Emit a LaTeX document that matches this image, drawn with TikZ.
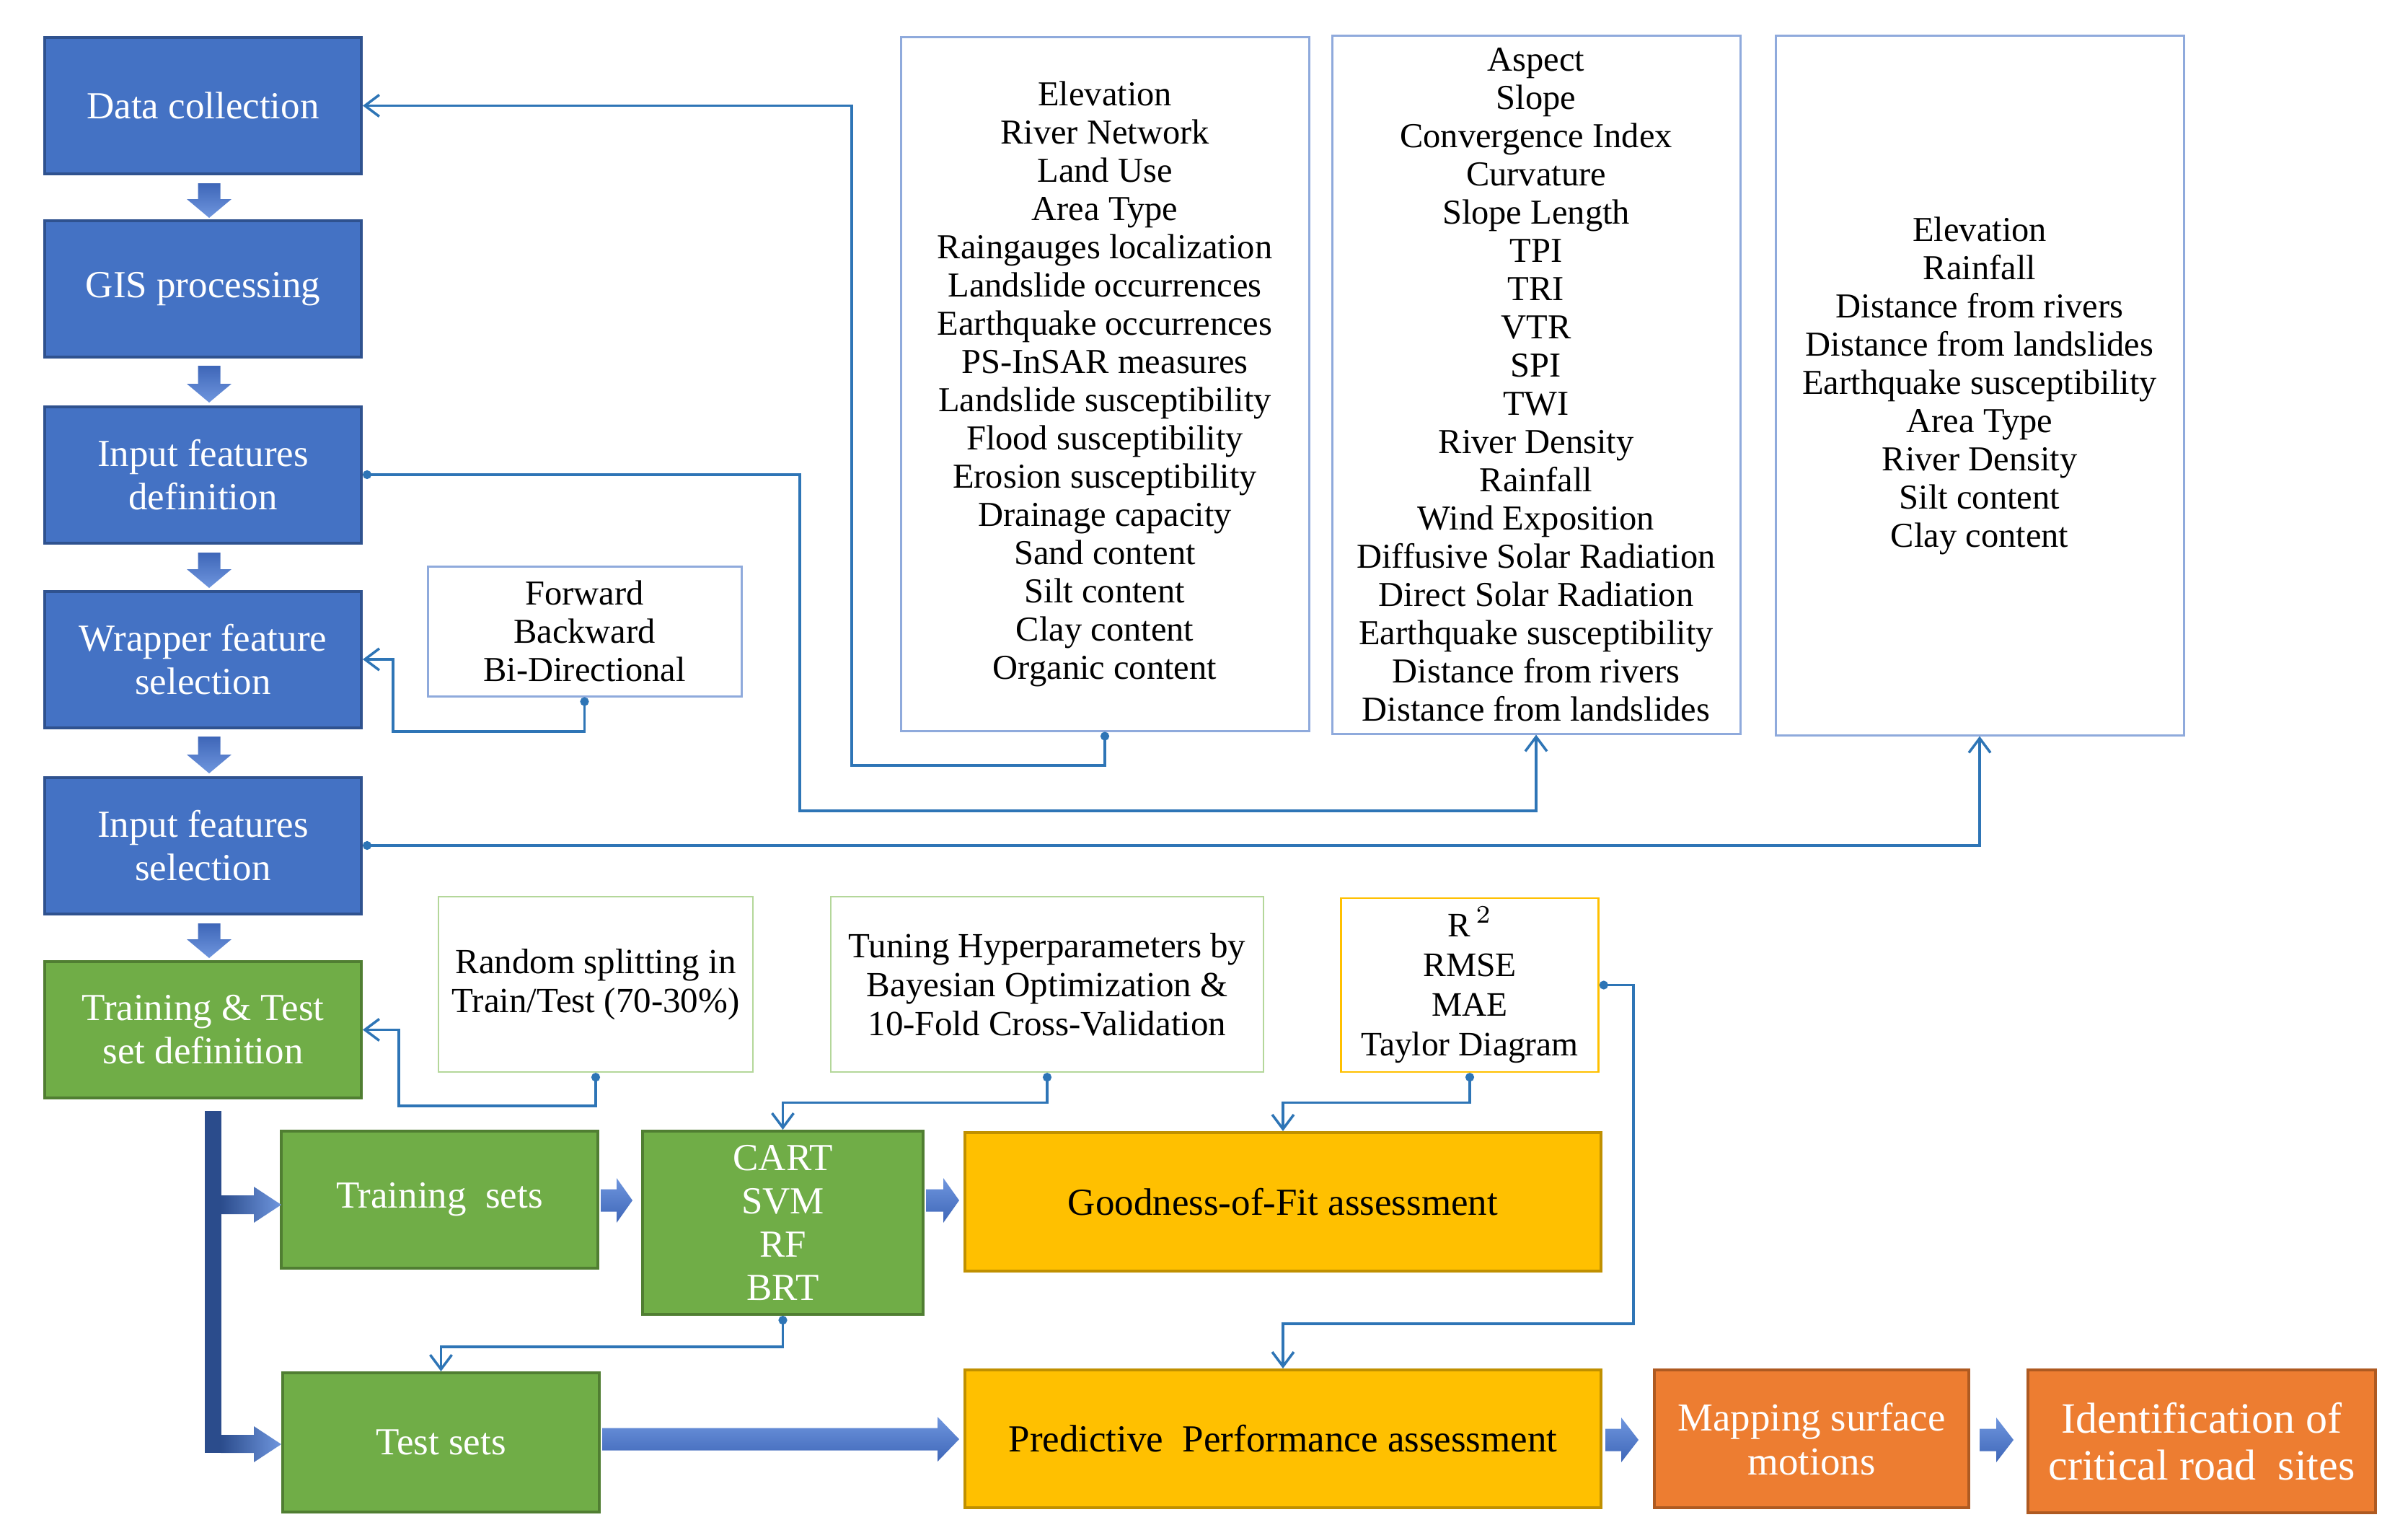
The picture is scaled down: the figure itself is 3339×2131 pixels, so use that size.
\documentclass[tikz,border=0pt]{standalone}
\usepackage{fontspec}
\setmainfont{Liberation Serif}
\usetikzlibrary{arrows.meta,calc}
\definecolor{cblue}{HTML}{4472C4}
\definecolor{cblueD}{HTML}{2F528F}
\definecolor{cgreen}{HTML}{70AD47}
\definecolor{cgreenD}{HTML}{507E32}
\definecolor{cgreenL}{HTML}{B4D79A}
\definecolor{cgold}{HTML}{FFC000}
\definecolor{cgoldD}{HTML}{C09000}
\definecolor{corange}{HTML}{ED7D31}
\definecolor{corangeD}{HTML}{AE5A21}
\definecolor{clist}{HTML}{8FAADC}
\definecolor{cconn}{HTML}{2E75B6}
\definecolor{cblkA}{HTML}{3E66B8}
\definecolor{cblkB}{HTML}{6F96DE}
\definecolor{cnavy}{HTML}{2B4C8C}
\newcommand\bigtxt{\fontsize{10.6}{12}\selectfont}
\newcommand\smalltxt{\fontsize{9.7}{10.6}\selectfont}
\newcommand\midtxt{\fontsize{9.8}{10.8}\selectfont}
\newcommand\vblk[2]{%
\shade[top color=cblkA,bottom color=cblkB] (274.5,#1) -- (305.5,#1) -- (305.5,#2-26) -- (321,#2-26) -- (290,#2) -- (259,#2-26) -- (274.5,#2-26) -- cycle;}
\newcommand\hblk[4]{%
\shade[top color=cblkB,bottom color=cblkA] (#1,#3-15.5) -- (#2-#4,#3-15.5) -- (#2-#4,#3-31) -- (#2,#3) -- (#2-#4,#3+31) -- (#2-#4,#3+15.5) -- (#1,#3+15.5) -- cycle;}
\begin{document}
\begin{tikzpicture}[x=0.2pt,y=-0.2pt,
  base/.style={rectangle, inner sep=0pt, align=center, line width=0.8pt},
  bluebox/.style={base, fill=cblue, draw=cblueD, text=white, font=\bigtxt, minimum width=87.8pt, minimum height=37.8pt},
  greenbox/.style={base, fill=cgreen, draw=cgreenD, text=white, font=\bigtxt},
  goldbox/.style={base, fill=cgold, draw=cgoldD, text=black, font=\bigtxt},
  orangebox/.style={base, fill=corange, draw=corangeD, text=white},
  listbox/.style={base, draw=clist, line width=0.6pt, font=\smalltxt, text=black},
  notebox/.style={base, line width=0.5pt, font=\midtxt, text=black},
  conn/.style={draw=cconn, line width=0.7pt, {Circle[length=2.4pt]}-{Straight Barb[length=4pt,width=6pt]}}
]
\useasboundingbox (0,0) rectangle (3339,2131);

% left column
\node[bluebox] (dc) at (281.5,146.5) {Data collection};
\node[bluebox] (gis) at (281.5,400.5) {GIS processing};
\node[bluebox] (ifd) at (281.5,658) {Input features\\definition};
\node[bluebox] (wfs) at (281.5,914) {Wrapper feature\\selection};
\node[bluebox] (ifs) at (281.5,1172) {Input features\\selection};
\node[greenbox, minimum width=87.8pt, minimum height=37.8pt] (ttd) at (281.5,1427.5) {Training \& Test\\set definition};

\vblk{254}{302}
\vblk{507}{558}
\vblk{766}{815}
\vblk{1021}{1072}
\vblk{1280}{1328}

% list boxes
\node[listbox, minimum width=87pt, minimum height=36pt] (fwd) at (810.5,875) {Forward\\Backward\\Bi-Directional};
\node[listbox, minimum width=113.2pt, minimum height=192.2pt] (b1) at (1532,532.5) {Elevation\\River Network\\Land Use\\Area Type\\Raingauges localization\\Landslide occurrences\\Earthquake occurrences\\PS-InSAR measures\\Landslide susceptibility\\Flood susceptibility\\Erosion susceptibility\\Drainage capacity\\Sand content\\Silt content\\Clay content\\Organic content};
\node[listbox, minimum width=113.2pt, minimum height=193.4pt] (b2) at (2130,533.5) {Aspect\\Slope\\Convergence Index\\Curvature\\Slope Length\\TPI\\TRI\\VTR\\SPI\\TWI\\River Density\\Rainfall\\Wind Exposition\\Diffusive Solar Radiation\\Direct Solar Radiation\\Earthquake susceptibility\\Distance from rivers\\Distance from landslides};
\node[listbox, minimum width=113.2pt, minimum height=193.8pt] (b3) at (2745,534.5) {Elevation\\Rainfall\\Distance from rivers\\Distance from landslides\\Earthquake susceptibility\\Area Type\\River Density\\Silt content\\Clay content};

% notes
\node[notebox, draw=cgreenL, minimum width=87.2pt, minimum height=48.6pt] (rnd) at (826,1364.5) {Random splitting in\\Train/Test (70-30\%)};
\node[notebox, draw=cgreenL, minimum width=120pt, minimum height=48.6pt] (tun) at (1452,1364.5) {Tuning Hyperparameters by\\Bayesian Optimization \&\\10-Fold Cross-Validation};
\node[notebox, draw=cgold, font=\fontsize{9.5}{11}\selectfont, minimum width=71.4pt, minimum height=48.2pt] (r2) at (2038,1365.5) {R\,$^{2}$\\RMSE\\MAE\\Taylor Diagram};

% lower boxes
\node[greenbox, minimum width=87.8pt, minimum height=38pt] (trs) at (609.5,1663) {Training\ \ sets};
\node[greenbox, minimum width=77.8pt, minimum height=50.8pt] (cart) at (1085.5,1695) {CART\\SVM\\RF\\BRT};
\node[goldbox, minimum width=176.4pt, minimum height=38.4pt] (good) at (1779,1666) {Goodness-of-Fit assessment};
\node[greenbox, minimum width=87.8pt, minimum height=38.6pt] (tst) at (611.5,1999.5) {Test sets};
\node[goldbox, minimum width=176.4pt, minimum height=38.2pt] (pred) at (1779,1994.5) {Predictive\ \ Performance assessment};
\node[orangebox, font=\fontsize{11}{12.2}\selectfont, minimum width=87.2pt, minimum height=38.2pt] (map) at (2512,1994.5) {Mapping surface\\motions};
\node[orangebox, font=\fontsize{12}{13}\selectfont, minimum width=96.4pt, minimum height=39.6pt] (idn) at (3053,1998) {Identification of\\critical road\ \ sites};

% block arrows
\hblk{833}{877}{1664}{22}
\hblk{1284}{1330}{1664}{22}
\hblk{835}{1330}{1995}{30}
\hblk{2226}{2272}{1996}{24}
\hblk{2745}{2792}{1996}{24}

% bracket
\fill[cnavy] (284,1540) rectangle (307,2014);
\shade[left color=cnavy, right color=cblkB] (306,1657) -- (352,1657) -- (352,1645) -- (390,1670) -- (352,1695) -- (352,1683) -- (306,1683) -- cycle;
\shade[left color=cnavy, right color=cblkB] (306,1989) -- (352,1989) -- (352,1977) -- (390,2002) -- (352,2027) -- (352,2014) -- (306,2014) -- cycle;

% connectors
\draw[conn] (b1.south) |- (1181,1061) |- (dc.east);
\draw[conn] (ifd.east) -| (1109,1124) -| (b2.south);
\draw[conn] (ifs.east) -| (b3.south);
\draw[conn] (fwd.south) |- (545,1014) |- (wfs.east);
\draw[conn] (rnd.south) |- (553,1533) |- (ttd.east);
\draw[conn] (tun.south) -- ++(0,41) -| (cart.north);
\draw[conn] (r2.south) -- ++(0,41) -| (good.north);
\draw[conn] (r2.east) -| (2265,1835) -| (pred.north);
\draw[conn] (cart.south) -- ++(0,43) -| (tst.north);
\end{tikzpicture}
\end{document}
